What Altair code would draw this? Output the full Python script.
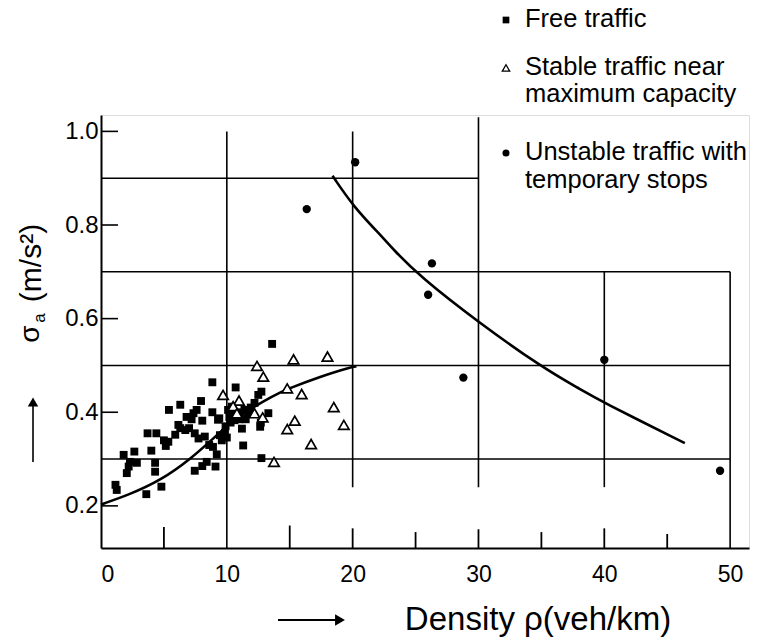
import altair as alt
import pandas as pd

# ---------------- data ----------------
free_x = [13.6, 8.85, 10.7, 7.95, 6.3, 5.4, 8.85, 7.35, 7.2, 8.05, 9.3, 6.3, 6.7, 7.45, 7.75,
          8.25, 3.7, 4.4, 5.35, 5.15, 8.9, 9.45, 9.85, 11.3, 4.0, 2.65, 1.8, 2.3, 2.85, 2.2,
          4.3, 2.05, 4.3, 4.8, 3.6, 1.15, 1.25, 7.45, 8.05, 8.4, 9.1, 12.75, 12.5, 12.75, 13.3,
          12.65, 12.7, 6.15, 7.0, 9.4, 10.2, 10.5, 10.8, 11.1, 11.4, 11.7, 10.3, 10.6, 11.0,
          10.1, 11.5, 9.9, 11.9, 10.4, 9.6, 10.0, 8.6, 12.2, 5.0, 6.8, 7.6, 5.9, 11.2, 9.2]
free_y = [0.546, 0.464, 0.453, 0.424, 0.416, 0.405, 0.400, 0.398, 0.385, 0.382, 0.384, 0.366,
          0.362, 0.355, 0.344, 0.348, 0.355, 0.355, 0.337, 0.328, 0.326, 0.351, 0.356, 0.329,
          0.318, 0.316, 0.309, 0.294, 0.292, 0.284, 0.292, 0.270, 0.273, 0.241, 0.225, 0.245,
          0.234, 0.275, 0.285, 0.294, 0.284, 0.302, 0.437, 0.444, 0.398, 0.369, 0.378, 0.373,
          0.366, 0.387, 0.390, 0.395, 0.392, 0.400, 0.405, 0.396, 0.378, 0.383, 0.385, 0.405,
          0.385, 0.370, 0.410, 0.412, 0.340, 0.346, 0.330, 0.420, 0.340, 0.390, 0.405, 0.352,
          0.365, 0.310]

stable_x = [12.4, 15.3, 18.0, 12.9, 14.8, 15.95, 18.5, 19.3, 15.4, 14.8, 16.7, 13.75,
            9.7, 10.97, 10.5, 12.2, 12.85, 10.8]
stable_y = [0.499, 0.513, 0.519, 0.476, 0.451, 0.439, 0.411, 0.373, 0.382, 0.364, 0.332, 0.294,
            0.437, 0.425, 0.413, 0.398, 0.389, 0.398]

unstable_x = [20.2, 16.35, 26.3, 26.0, 28.8, 40.0, 49.2]
unstable_y = [0.934, 0.834, 0.718, 0.651, 0.474, 0.512, 0.275]

rise_x = [0.0, 2.17, 4.8, 7.2, 8.8, 10.1, 11.45, 13.8, 14.75, 17.4, 19.8, 20.3]
rise_y = [0.203, 0.223, 0.255, 0.302, 0.341, 0.373, 0.401, 0.437, 0.449, 0.476, 0.496, 0.498]

fall_x = [18.4, 20.1, 22.2, 23.25, 25.35, 29.9, 35.15, 38.1, 39.7, 46.4]
fall_y = [0.905, 0.838, 0.779, 0.747, 0.690, 0.594, 0.494, 0.449, 0.424, 0.334]

x_ticks = [0, 10, 20, 30, 40, 50]
y_ticks = [0.2, 0.4, 0.6, 0.8, 1.0]

# grid segments (data coordinates)
hgrid_y = [0.9, 0.7, 0.5, 0.3]
hgrid_x2 = [30, 50, 50, 50]
vgrid_x = [10, 20, 30, 40, 50]
vgrid_y1 = [0.11, 0.24, 0.24, 0.24, 0.11]
vgrid_y2 = [1.0, 1.0, 1.03, 0.7, 0.7]
minor_x = [5, 15, 20, 25, 30, 35, 40, 45]
minor_len = [0.045, 0.048, 0.042, 0.034, 0.040, 0.034, 0.042, 0.030]

FONT = "Liberation Sans"
XMIN, XMAX = 0, 51.5
YMIN, YMAX = 0.11, 1.035
OX, OY = 101, 115  # plot-area origin inside the page (padding)

xscale = alt.Scale(domain=[XMIN, XMAX], nice=False, zero=False)
yscale = alt.Scale(domain=[YMIN, YMAX], nice=False, zero=False)
xaxis = alt.Axis(values=x_ticks, ticks=False, grid=False, domain=True, domainColor="black",
                 domainWidth=2, labelFont=FONT, labelFontSize=23, labelColor="black",
                 labelPadding=15, title=None, format="d")
yaxis = alt.Axis(values=y_ticks, ticks=False, grid=False, domain=True, domainColor="black",
                 domainWidth=2, labelFont=FONT, labelFontSize=24, labelColor="black",
                 labelPadding=3, title=None, format=".1f")


def X(f):
    return alt.X(f + ":Q", scale=xscale, axis=xaxis, title=None)


def Y(f):
    return alt.Y(f + ":Q", scale=yscale, axis=yaxis, title=None)


hgrid = pd.DataFrame({"y": hgrid_y, "x": [0] * len(hgrid_y), "x2": hgrid_x2})
vgrid = pd.DataFrame({"x": vgrid_x, "y": vgrid_y1, "y2": vgrid_y2})
minor = pd.DataFrame({"x": minor_x, "y": [YMIN] * len(minor_x),
                      "y2": [YMIN + l for l in minor_len]})
yt = pd.DataFrame({"y": y_ticks, "x": [0] * len(y_ticks), "x2": [1.35] * len(y_ticks)})

free = pd.DataFrame({"x": free_x, "y": free_y})
stable = pd.DataFrame({"x": stable_x, "y": stable_y})
unstable = pd.DataFrame({"x": unstable_x, "y": unstable_y})
rise = pd.DataFrame({"x": rise_x, "y": rise_y})
fall = pd.DataFrame({"x": fall_x, "y": fall_y})

layers = []
layers.append(alt.Chart(hgrid).mark_rule(color="black", strokeWidth=1.6).encode(
    x=X("x"), x2="x2:Q", y=Y("y")))
layers.append(alt.Chart(vgrid).mark_rule(color="black", strokeWidth=1.6).encode(
    x=X("x"), y=Y("y"), y2="y2:Q"))
layers.append(alt.Chart(minor).mark_rule(color="black", strokeWidth=1.8).encode(
    x=X("x"), y=Y("y"), y2="y2:Q"))
layers.append(alt.Chart(yt).mark_rule(color="black", strokeWidth=1.6).encode(
    x=X("x"), x2="x2:Q", y=Y("y")))
layers.append(alt.Chart(rise).mark_line(color="black", strokeWidth=2.6, interpolate="basis").encode(
    x=X("x"), y=Y("y")))
layers.append(alt.Chart(fall).mark_line(color="black", strokeWidth=2.6, interpolate="basis").encode(
    x=X("x"), y=Y("y")))
layers.append(alt.Chart(free).mark_point(shape="square", filled=True, color="black", size=62, opacity=1).encode(
    x=X("x"), y=Y("y")))
layers.append(alt.Chart(stable).mark_point(shape="triangle-up", filled=True, fill="white", fillOpacity=1,
                                           stroke="black", strokeWidth=1.7, size=110, opacity=1).encode(
    x=X("x"), y=Y("y")))
layers.append(alt.Chart(unstable).mark_point(shape="circle", filled=True, color="black", size=70, opacity=1).encode(
    x=X("x"), y=Y("y")))

one = pd.DataFrame({"a": [0]})

# legend (page pixel positions converted to plot-area coordinates)
layers.append(alt.Chart(one).mark_point(shape="square", filled=True, color="black", size=45, opacity=1,
                                        x=506 - OX, y=20 - OY))
layers.append(alt.Chart(one).mark_point(shape="triangle-up", filled=True, fill="white", fillOpacity=1,
                                        stroke="black", strokeWidth=1.3, size=55, opacity=1,
                                        x=506 - OX, y=68 - OY))
layers.append(alt.Chart(one).mark_point(shape="circle", filled=True, color="black", size=50, opacity=1,
                                        x=506 - OX, y=153 - OY))
legend_lines = [("Free traffic", 19), ("Stable traffic near", 67), ("maximum capacity", 94),
                ("Unstable traffic with", 152), ("temporary stops", 180)]
for txt, yy in legend_lines:
    layers.append(alt.Chart(one).mark_text(text=txt, x=525 - OX, y=yy - OY, align="left", baseline="middle",
                                           font=FONT, fontSize=25.5, color="black"))

# x title with arrow
layers.append(alt.Chart(one).mark_text(text="Density  \u03c1(veh/km)", x=538 - OX, y=620 - OY, align="center",
                                       baseline="middle", font=FONT, fontSize=33, color="black"))
layers.append(alt.Chart(one).mark_rule(color="black", strokeWidth=2).encode(
    x=alt.value(278 - OX), x2=alt.value(336 - OX), y=alt.value(620 - OY)))
layers.append(alt.Chart(one).mark_point(shape="triangle-right", filled=True, color="black", size=130,
                                        opacity=1, x=340 - OX, y=620 - OY))

# y title with arrow
layers.append(alt.Chart(one).mark_text(text="\u03c3", x=31 - OX, y=334 - OY, angle=270, align="center",
                                       baseline="middle", font=FONT, fontSize=28, color="black"))
layers.append(alt.Chart(one).mark_text(text="a", x=40 - OX, y=318 - OY, angle=270, align="center",
                                       baseline="middle", font=FONT, fontSize=17, color="black"))
layers.append(alt.Chart(one).mark_text(text="(m/s\u00b2)", x=32 - OX, y=263 - OY, angle=270, align="center",
                                       baseline="middle", font=FONT, fontSize=30, color="black"))
layers.append(alt.Chart(one).mark_rule(color="black", strokeWidth=1.6).encode(
    x=alt.value(33 - OX), y=alt.value(462 - OY), y2=alt.value(406 - OY)))
layers.append(alt.Chart(one).mark_point(shape="triangle-up", filled=True, color="black", size=110,
                                        opacity=1, x=33 - OX, y=402 - OY))

chart = alt.layer(*layers).properties(
    width=648, height=433,
    autosize=alt.AutoSizeParams(type="none"),
    padding={"left": OX, "top": OY, "right": 8, "bottom": 93},
).configure_view(stroke=None).configure(background="white")

chart.save("out.html", embed_options={"renderer": "svg", "actions": False})
